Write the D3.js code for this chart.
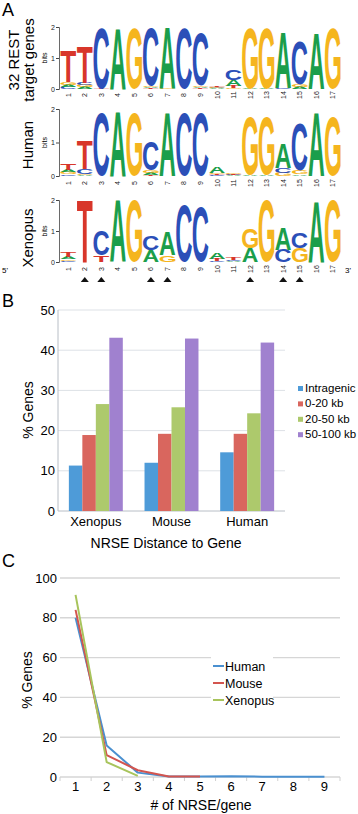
<!DOCTYPE html>
<html><head><meta charset="utf-8">
<script src="https://cdn.jsdelivr.net/npm/d3@7/dist/d3.min.js"></script>
<style>
html,body{margin:0;padding:0;background:#fff;}
svg{display:block;font-family:"Liberation Sans",Arial,Helvetica,sans-serif;}
</style></head>
<body>
<svg id="fig" width="358" height="814"></svg>
<script>
// ---------- DATA ----------
const positionLabels = ["1","2","3","4","5","6","7","8","9","10","11","12","13","14","15","16","17"];
const restLogo = [
  {T:1.0,A:0.08,G:0.08,C:0.06},{T:1.15,A:0.06,G:0.06,C:0.06},{C:1.97,T:0.02},{A:1.98},{G:1.97},
  {C:1.85,A:0.04,G:0.04,T:0.02},{A:1.95,G:0.02},{C:1.95},{C:1.7,A:0.05,G:0.05,T:0.02},
  {A:0.02,C:0.02,G:0.02,T:0.02},{C:0.35,A:0.2,T:0.06,G:0.03},{G:1.95,A:0.02},{G:1.95,A:0.02},
  {A:1.8,C:0.02},{C:1.4,G:0.08,A:0.06},{A:1.82},{G:1.97}
];
const humanLogo = [
  {T:0.2,A:0.08,G:0.06,C:0.05},{T:0.85,C:0.15,A:0.03,G:0.03},{C:1.9},{A:1.95},{G:1.9},
  {C:0.85,G:0.08,A:0.06,T:0.03},{A:1.9},{C:1.9},{C:1.9},{A:0.18,G:0.04,C:0.03,T:0.03},
  {A:0.02,C:0.02,T:0.02,G:0.02},{G:1.72,A:0.03},{G:1.72,A:0.03},{A:0.75,C:0.15,G:0.1},
  {C:1.4,G:0.1,A:0.05},{A:1.9},{G:1.75}
];
const xenopusLogo = [
  {T:0.15,A:0.06,G:0.05,C:0.04},{T:2.0},{C:0.8,T:0.22},{A:2.0},{G:2.0},{C:0.48,A:0.38},
  {A:0.75,G:0.22},{C:1.84},{C:1.8},{A:0.22,T:0.06,C:0.04},{T:0.06,C:0.04,A:0.03},
  {G:0.65,A:0.45},{G:2.0},{A:0.7,C:0.4},{C:0.5,G:0.45},{A:1.98},{G:2.0}
];
const markedPositions = ["2","3","6","7","12","14","15"];
const logoTicks = [0,1,2];

const species = ["Xenopus","Mouse","Human"];
const distanceBins = ["Intragenic","0-20 kb","20-50 kb","50-100 kb"];
const intragenic = [11.3, 12.0, 14.6];
const kb0to20 = [18.9, 19.2, 19.2];
const kb20to50 = [26.6, 25.8, 24.3];
const kb50to100 = [43.1, 42.9, 41.9];
const barTicks = [0,10,20,30,40,50];

const nrseCounts = ["1","2","3","4","5","6","7","8","9"];
const lineSeries = ["Human","Mouse","Xenopus"];
const humanPct = [80, 15.8, 2.2, 0.3, 0.2, 0.35, 0.15, 0.1, 0.1];
const mousePct = [84, 11, 3.4, 0.3, 0.2];
const xenopusPct = [91.5, 7.5, 0.6];
const lineTicks = [0,20,40,60,80,100];

// ---------- STYLE ----------
const FONT = '"Liberation Sans",Arial,Helvetica,sans-serif';
const baseColors = {A:"#1b9e4b", C:"#2b4fb8", G:"#f5b51e", T:"#d8362a"};
const barColors = ["#4e9bd8","#d9665e","#adc96c","#a081cf"];
const lineColors = ["#4a90d0","#d3554f","#a8c45c"];

const svg = d3.select("#fig");

// glyph ink metrics
const cvs = document.createElement("canvas").getContext("2d");
cvs.font = "bold 100px " + FONT;
const metrics = {};
["A","C","G","T"].forEach(L => {
  const m = cvs.measureText(L);
  let l = m.actualBoundingBoxLeft, r = m.actualBoundingBoxRight,
      a = m.actualBoundingBoxAscent, d = m.actualBoundingBoxDescent;
  if (!(a > 0)) { l = -2; r = 70; a = 72; d = 1; }
  metrics[L] = {l, r, a, d};
});

// ---------- PANEL LABELS ----------
[["A",2,16],["B",2,307],["C",2,567]].forEach(([t,x,y]) =>
  svg.append("text").attr("x",x).attr("y",y).attr("font-size",18).text(t));

// ---------- LOGOS ----------
function drawLogo(data, y0, y2, numY) {
  const g = svg.append("g");
  const x = d3.scaleBand().domain(positionLabels).range([60, 341]);
  const y = d3.scaleLinear().domain([0, 2]).range([y0, y2]);
  data.forEach((col, i) => {
    const entries = Object.entries(col).sort((a, b) => a[1] - b[1]);
    let cum = 0;
    entries.forEach(([L, v]) => {
      const yb = y(cum), yt = y(cum + v);
      cum += v;
      const h = yb - yt;
      if (h < 0.3) return;
      const m = metrics[L];
      const x0 = x(positionLabels[i]) + 0.4, w = x.bandwidth() - 0.8;
      const sx = w / (m.l + m.r), sy = h / (m.a + m.d);
      g.append("text")
        .attr("transform", `translate(${x0 + m.l * sx},${yb - m.d * sy}) scale(${sx},${sy})`)
        .attr("font-size", 100).attr("font-weight", "bold")
        .attr("fill", baseColors[L]).text(L);
    });
  });
  const ax = g.append("g").attr("transform", "translate(59,0)")
    .call(d3.axisLeft(y).tickValues(logoTicks).tickSize(3).tickFormat(d3.format("d")));
  ax.select(".domain").attr("stroke", "#444").attr("stroke-width", 0.8);
  ax.selectAll(".tick line").attr("stroke", "#444");
  ax.selectAll("text").attr("font-size", 7).attr("font-family", FONT).attr("fill", "#222").attr("x", -4);
  g.append("text").attr("transform", `translate(47,${(y0 + y2) / 2}) rotate(-90)`)
    .attr("text-anchor", "middle").attr("font-size", 7).text("bits");
  positionLabels.forEach(p => {
    g.append("text")
      .attr("transform", `translate(${x(p) + x.bandwidth() / 2},${numY}) rotate(-90)`)
      .attr("text-anchor", "middle").attr("dominant-baseline", "central")
      .attr("font-size", 7).attr("fill", "#222").text(p);
  });
  return x;
}
drawLogo(restLogo, 89, 27, 95);
drawLogo(humanLogo, 176, 109, 183);
const xl = drawLogo(xenopusLogo, 262, 200, 269);
svg.append("text").attr("x", 2).attr("y", 273).attr("font-size", 8).text("5'");
svg.append("text").attr("x", 345).attr("y", 273).attr("font-size", 8).text("3'");
markedPositions.forEach(p => {
  const cx = xl(p) + xl.bandwidth() / 2;
  svg.append("path").attr("d", `M${cx - 4},282 L${cx + 4},282 L${cx},277 Z`).attr("fill", "#111");
});

// row labels
function rowLabel(lines, cy, xs) {
  lines.forEach((t, i) => svg.append("text")
    .attr("transform", `translate(${xs[i]},${cy}) rotate(-90)`)
    .attr("text-anchor", "middle").attr("font-size", 15).text(t));
}
rowLabel(["32 REST", "target genes"], 60, [19, 34]);
rowLabel(["Human"], 145, [33]);
rowLabel(["Xenopus"], 238, [33]);

// ---------- PANEL B ----------
{
  const x = d3.scaleBand().domain(species).range([58, 285]).paddingInner(0.287).paddingOuter(0.1435);
  const xi = d3.scaleBand().domain(distanceBins).range([0, x.bandwidth()]);
  const y = d3.scaleLinear().domain([0, 50]).range([511, 310]);
  const g = svg.append("g");
  barTicks.forEach(t => {
    g.append("line").attr("x1", 58).attr("x2", 285).attr("y1", y(t)).attr("y2", y(t))
      .attr("stroke", t === 0 ? "#b8bec6" : "#dde1e6").attr("stroke-width", 1);
    g.append("text").attr("x", 55).attr("y", y(t) + 4.5).attr("text-anchor", "end")
      .attr("font-size", 13).text(t);
  });
  g.append("line").attr("x1", 58).attr("x2", 58).attr("y1", y(0)).attr("y2", y(50))
    .attr("stroke", "#b8bec6");
  const series = [intragenic, kb0to20, kb20to50, kb50to100];
  series.forEach((vals, si) => {
    g.selectAll(null).data(vals).enter().append("rect")
      .attr("x", (d, i) => x(species[i]) + xi(distanceBins[si]))
      .attr("width", xi.bandwidth())
      .attr("y", d => y(d)).attr("height", d => y(0) - y(d))
      .attr("fill", barColors[si]);
  });
  species.forEach(s => g.append("text").attr("x", x(s) + x.bandwidth() / 2).attr("y", 526)
    .attr("text-anchor", "middle").attr("font-size", 13).text(s));
  g.append("text").attr("x", 166).attr("y", 548).attr("text-anchor", "middle")
    .attr("font-size", 14).text("NRSE Distance to Gene");
  g.append("text").attr("transform", "translate(33,410) rotate(-90)").attr("text-anchor", "middle")
    .attr("font-size", 14).text("% Genes");
  distanceBins.forEach((b, i) => {
    const yy = 392 + i * 15.4;
    g.append("rect").attr("x", 298).attr("y", yy - 6).attr("width", 5).attr("height", 5).attr("fill", barColors[i]);
    g.append("text").attr("x", 305).attr("y", yy).attr("font-size", 11.5).text(b);
  });
}

// ---------- PANEL C ----------
{
  const x = d3.scaleBand().domain(nrseCounts).range([60, 340]);
  const y = d3.scaleLinear().domain([0, 100]).range([777, 578]);
  const g = svg.append("g");
  lineTicks.forEach(t => {
    g.append("line").attr("x1", 60).attr("x2", 340).attr("y1", y(t)).attr("y2", y(t))
      .attr("stroke", "#d6d6d6").attr("stroke-width", 1.4);
    g.append("text").attr("x", 57).attr("y", y(t) + 4.5).attr("text-anchor", "end")
      .attr("font-size", 13).text(t);
  });
  nrseCounts.concat(["end"]).forEach((c, i) => {
    const xx = 60 + i * x.step();
    g.append("line").attr("x1", xx).attr("x2", xx).attr("y1", 777).attr("y2", 781)
      .attr("stroke", "#d0d0d0").attr("stroke-width", 1);
  });
  nrseCounts.forEach(c => g.append("text").attr("x", x(c) + x.bandwidth() / 2).attr("y", 791)
    .attr("text-anchor", "middle").attr("font-size", 13).text(c));
  g.append("text").attr("x", 201).attr("y", 810).attr("text-anchor", "middle")
    .attr("font-size", 14).text("# of NRSE/gene");
  g.append("text").attr("transform", "translate(32,680) rotate(-90)").attr("text-anchor", "middle")
    .attr("font-size", 14).text("% Genes");
  const line = d3.line().x((d, i) => x(nrseCounts[i]) + x.bandwidth() / 2).y(d => y(d));
  // legend background
  g.append("rect").attr("x", 211).attr("y", 653).attr("width", 62).attr("height", 55).attr("fill", "#fff");
  [humanPct, mousePct, xenopusPct].forEach((vals, i) => {
    g.append("path").datum(vals).attr("d", line).attr("fill", "none")
      .attr("stroke", lineColors[i]).attr("stroke-width", 2).attr("stroke-linejoin", "round");
  });
  lineSeries.forEach((s, i) => {
    const yy = 666 + i * 17;
    g.append("line").attr("x1", 213).attr("x2", 224).attr("y1", yy).attr("y2", yy)
      .attr("stroke", lineColors[i]).attr("stroke-width", 2);
    g.append("text").attr("x", 225).attr("y", yy + 4.5).attr("font-size", 12.5).text(s);
  });
}
</script>
</body></html>
